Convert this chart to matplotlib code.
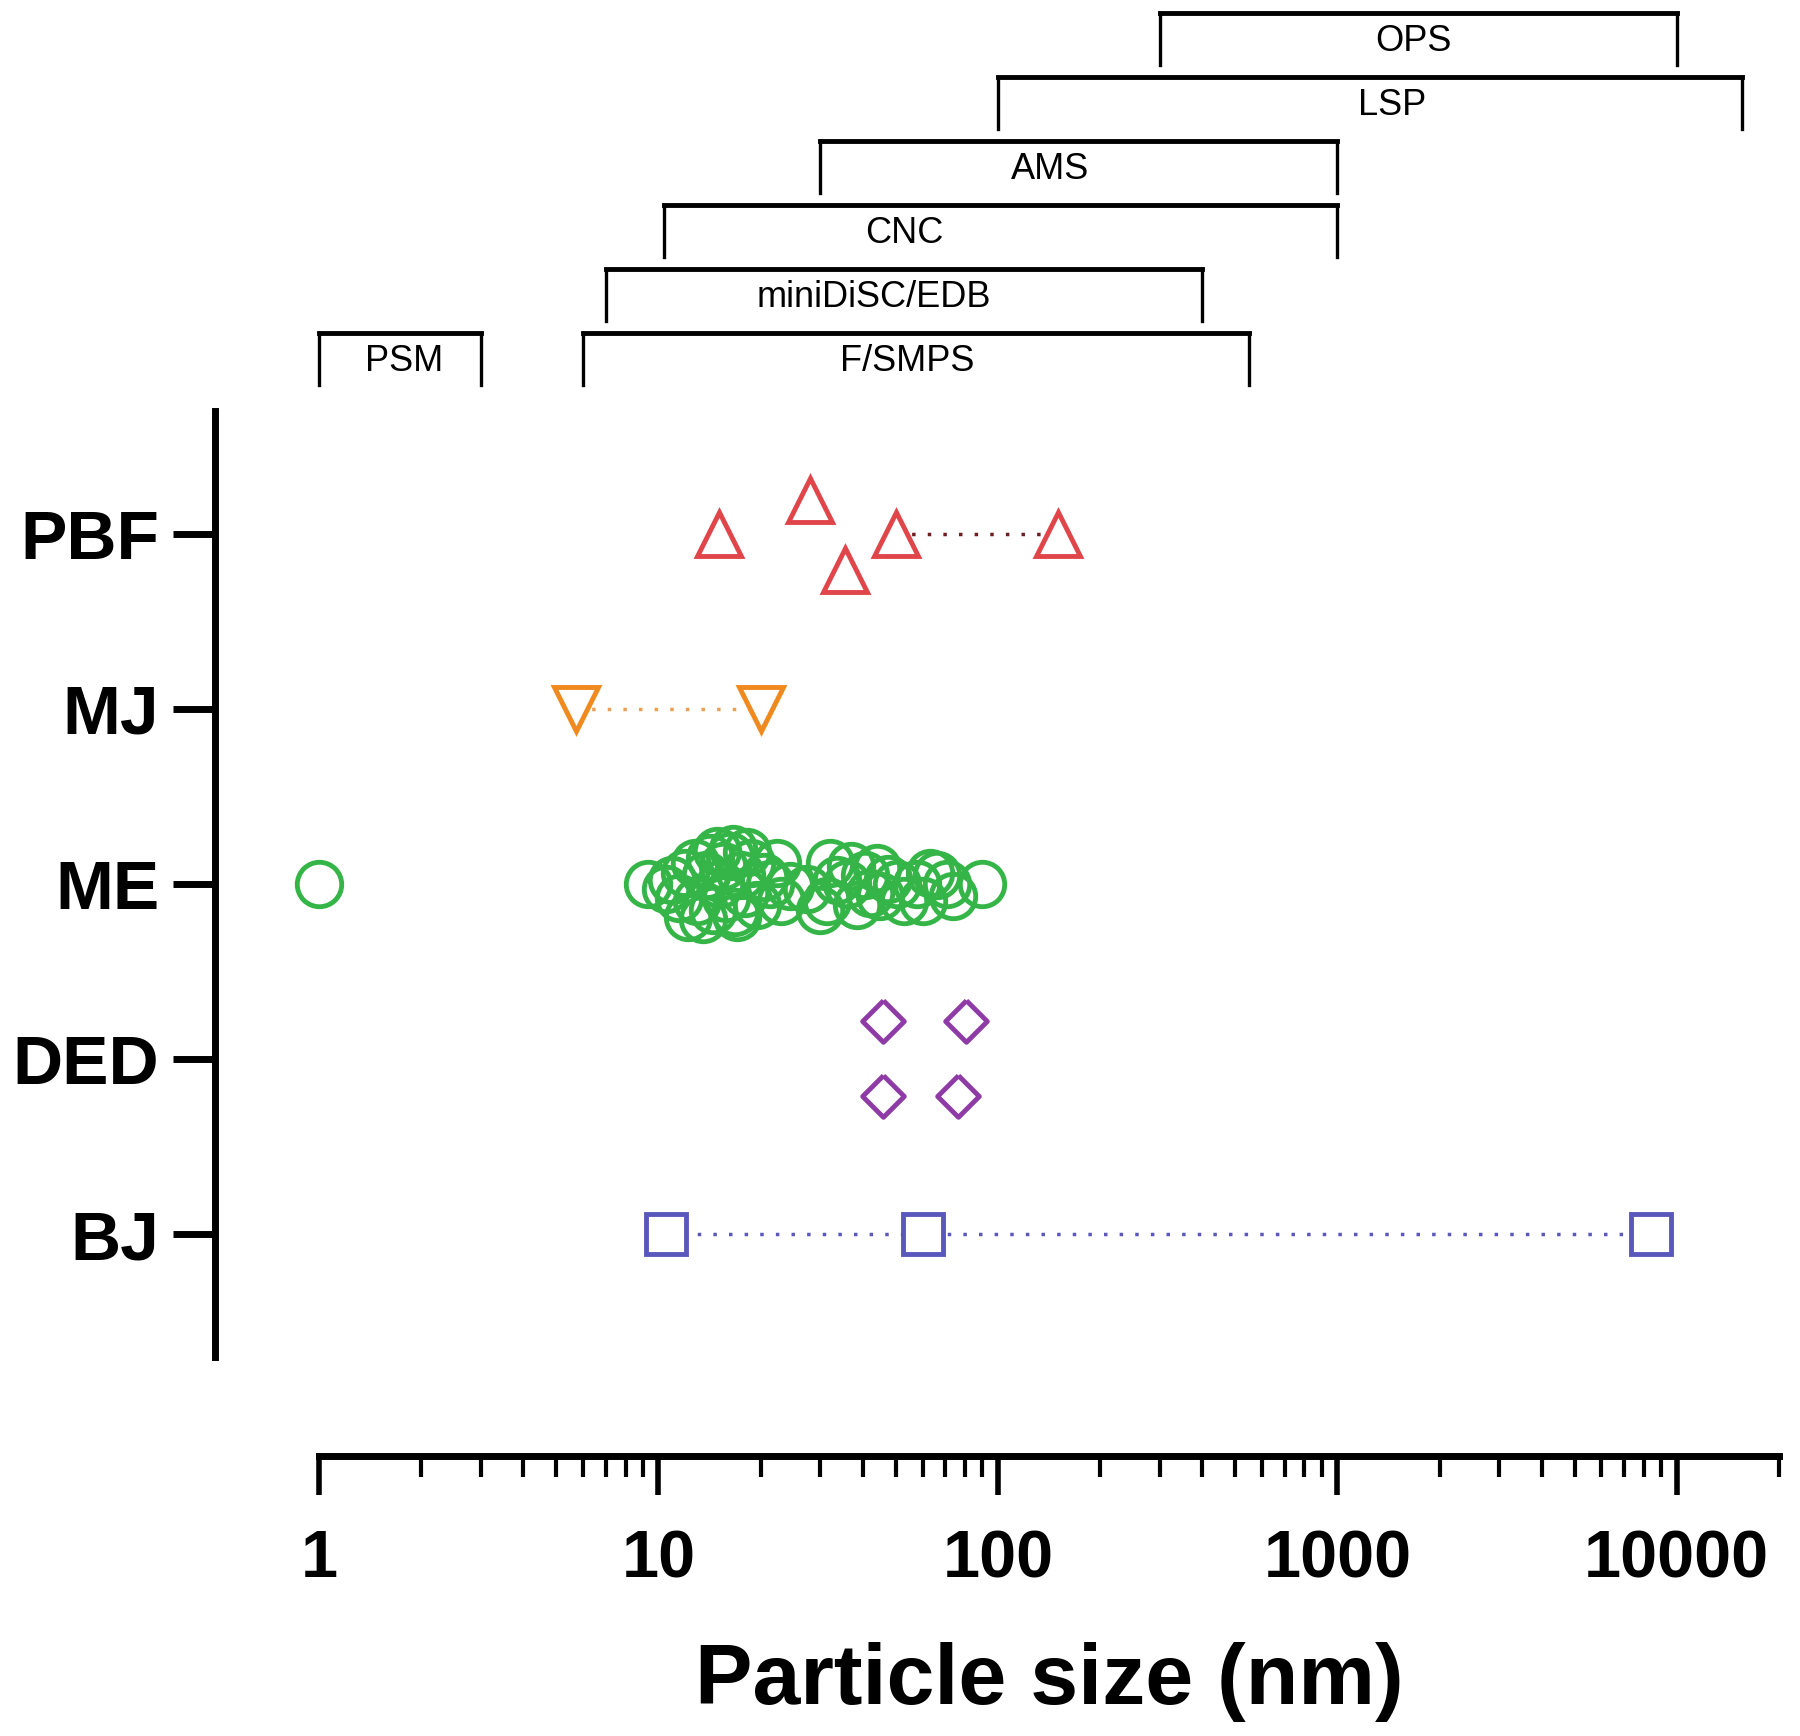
import matplotlib
matplotlib.use("Agg")
import matplotlib.pyplot as plt
from matplotlib.ticker import FixedLocator, NullFormatter
import numpy as np

plt.rcParams['font.family'] = ['Liberation Sans', 'DejaVu Sans']

# process categories, bottom to top
categories = ['BJ', 'DED', 'ME', 'MJ', 'PBF']

# particle sizes (nm)
pbf_nm = [15.1, 28.0, 35.5, 50.0, 150.0]
pbf_jitter = [0.0, 0.19, -0.21, 0.0, 0.0]
pbf_linked = [50.0, 150.0]

mj_nm = [5.7, 20.0]

me_nm = [1.0,
         9.3, 10.5, 11.0, 11.5, 12.0, 12.2, 12.8, 13.0, 13.5, 13.8,
         14.2, 14.5, 14.9, 15.2, 15.5, 15.8, 16.2, 16.6, 16.8, 17.0,
         17.5, 18.0, 18.2, 18.8, 19.5, 20.5, 21.3, 22.3, 23.0,
         24.4, 27.4, 29.9, 31.3, 32.0, 33.5, 35.9, 37.0, 38.5, 40.5,
         42.0, 44.0, 44.9, 47.5, 50.4, 53.0, 57.7, 60.1, 63.0, 66.0,
         70.8, 73.8, 89.7]
me_jitter = [0.0,
             0.0, -0.03, 0.02, -0.08, 0.06, -0.19, 0.12, -0.10, -0.20, 0.05,
             0.15, -0.15, 0.19, 0.0, 0.10, -0.08, 0.16, 0.20, -0.16, -0.19,
             0.05, -0.05, 0.18, 0.12, -0.12, 0.04, 0.0, 0.12, -0.10,
             -0.01, -0.03, -0.15, -0.10, 0.12, 0.02, 0.0, 0.10, -0.12, 0.05,
             -0.05, 0.09, -0.07, 0.03, 0.0, -0.10, 0.0, -0.10, 0.06, 0.05,
             0.0, -0.07, 0.0]

ded_nm = [45.8, 80.5, 45.8, 76.2]
ded_jitter = [0.22, 0.22, -0.21, -0.21]

bj_nm = [10.5, 60.0, 8400.0]

# measurement instruments and their size ranges (nm)
instruments = ['PSM', 'F/SMPS', 'miniDiSC/EDB', 'CNC', 'AMS', 'LSP', 'OPS']
inst_low = [1.0, 6.0, 7.0, 10.4, 30.0, 100.0, 300.0]
inst_high = [3.0, 550.0, 400.0, 1000.0, 1000.0, 15600.0, 10000.0]
inst_row = [0, 0, 1, 2, 3, 4, 5]
inst_label_at = [1.78, 54.0, 43.0, 53.0, 142.0, 1446.0, 1680.0]

red = '#E0454A'
orange = '#F0891E'
green = '#35B548'
purple = '#8E3BA6'
blue = '#5A58BC'

fig = plt.figure(figsize=(18, 17.36), dpi=100)
ax = fig.add_axes([0.1193, 0.2183, 0.869, 0.545])
ax.set_xscale('log')
ax.set_xlim(0.493, 20000)
ax.set_ylim(0.3, 5.7)

ypos = {c: i + 1 for i, c in enumerate(categories)}

dots = (0, (1, 3.5))
ax.plot(pbf_linked, [ypos['PBF']] * 2, ls=dots, lw=2.5, color='#6E1E22', zorder=1)
ax.plot(mj_nm, [ypos['MJ']] * 2, ls=dots, lw=2.5, color='#EBA055', zorder=1)
ax.plot(bj_nm, [ypos['BJ']] * 3, ls=dots, lw=2.5, color=blue, zorder=1)

ax.plot(pbf_nm, ypos['PBF'] + np.array(pbf_jitter), ls='none', marker='^',
        ms=31, mfc='white', mec=red, mew=3.5, zorder=3, clip_on=False)
ax.plot(mj_nm, [ypos['MJ']] * 2, ls='none', marker='v',
        ms=31, mfc='white', mec=orange, mew=3.5, zorder=3, clip_on=False)
ax.plot(me_nm, ypos['ME'] + np.array(me_jitter), ls='none', marker='o',
        ms=32, mfc='none', mec=green, mew=3.5, zorder=3, clip_on=False)
diamond = [(0, 1), (1, 0), (0, -1), (-1, 0), (0, 1)]
ax.plot(ded_nm, ypos['DED'] + np.array(ded_jitter), ls='none', marker=diamond,
        ms=30, mfc='white', mec=purple, mew=3.5, zorder=3, clip_on=False)
ax.plot(bj_nm, [ypos['BJ']] * 3, ls='none', marker='s',
        ms=29, mfc='white', mec=blue, mew=3.5, zorder=3, clip_on=False)

# prism-like axes
ax.spines['top'].set_visible(False)
ax.spines['right'].set_visible(False)
ax.spines['left'].set_linewidth(5)
ax.spines['bottom'].set_linewidth(5)
ax.spines['bottom'].set_position(('outward', 71))
ax.spines['bottom'].set_bounds(1, 20000)

major = [1, 10, 100, 1000, 10000]
minor = [s * m for m in major for s in range(2, 10) if s * m <= 20000]
ax.set_xticks(major, ['1', '10', '100', '1000', '10000'],
              fontsize=48, fontweight='bold')
ax.xaxis.set_minor_locator(FixedLocator(minor))
ax.xaxis.set_minor_formatter(NullFormatter())
ax.tick_params(axis='x', which='major', length=28, width=4, pad=25)
ax.tick_params(axis='x', which='minor', length=15, width=3)
ax.set_yticks([1, 2, 3, 4, 5], categories, fontsize=50, fontweight='bold')
ax.tick_params(axis='y', length=30, width=5, pad=10)
ax.patch.set_visible(False)

fig.text(0.583, 0.0311, 'Particle size (nm)', ha='center', va='center',
         fontsize=62, fontweight='bold')

# instrument range brackets on top
bx = fig.add_axes([0.1193, 0.7696, 0.869, 0.2304])
bx.set_xscale('log')
bx.set_xlim(0.493, 20000)
bx.set_ylim(-1.047, 5.203)
bx.axis('off')
for name, lo, hi, row, lx in zip(instruments, inst_low, inst_high, inst_row, inst_label_at):
    bx.plot([lo, lo], [row - 0.8125, row], color='black', lw=2.4, clip_on=False)
    bx.plot([hi, hi], [row - 0.8125, row], color='black', lw=2.4, clip_on=False)
    bx.plot([lo, hi], [row, row], color='black', lw=3.5, solid_capstyle='projecting', clip_on=False)
    bx.text(lx, row - 0.44, name, ha='center', va='center', fontsize=26)

fig.savefig('out.png', dpi=100)
